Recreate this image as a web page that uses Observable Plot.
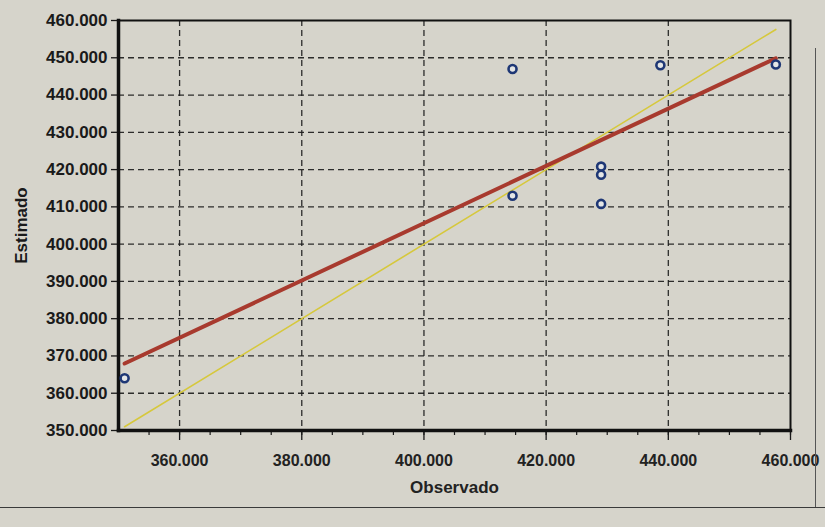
<!DOCTYPE html>
<html>
<head>
<meta charset="utf-8">
<script src="https://cdn.jsdelivr.net/npm/d3@7"></script>
<script src="https://cdn.jsdelivr.net/npm/@observablehq/plot@0.6"></script>
<style>
  html, body { margin: 0; padding: 0; background: #d6d4cb; }
  #wrap { position: relative; width: 825px; height: 527px; overflow: hidden; }
  #chart svg { display: block; background: transparent; }
  #bottomline { position: absolute; left: 0; top: 507px; width: 825px; height: 0; border-top: 1.5px solid #3a3a3a; }
  #rightline { position: absolute; left: 815px; top: 48px; width: 0; height: 460px; border-left: 1.5px solid #555; }
</style>
</head>
<body>
<div id="wrap">
  <div id="chart"></div>
  <div id="rightline"></div>
  <div id="bottomline"></div>
</div>
<script>
// Observed vs estimated values
const observed  = [351, 414.5, 414.5, 429, 429, 429, 438.7, 457.6];
const estimated = [364, 447, 413, 420.8, 418.6, 410.8, 448, 448.2];

// Axis ticks
const xTicks = [360, 380, 400, 420, 440, 460];
const xMinorTicks = [355, 360, 365, 370, 375, 380, 385, 390, 395, 400, 405, 410, 415, 420, 425, 430, 435, 440, 445, 450, 455, 460];
const yTicks = [350, 360, 370, 380, 390, 400, 410, 420, 430, 440, 450, 460];
const xGrid = [360, 380, 400, 420, 440];
const yGrid = [360, 370, 380, 390, 400, 410, 420, 430, 440, 450];

const points = observed.map((o, i) => ({observed: o, estimated: estimated[i]}));
const ext = d3.extent(observed);
const identity = ext.map(v => ({observed: v, estimated: v}));

const fmt = d => d.toFixed(3);

const chart = Plot.plot({
  width: 825,
  height: 505,
  marginLeft: 118,
  marginRight: 35,
  marginTop: 20,
  marginBottom: 75,
  style: {fontFamily: "'Liberation Sans', Arial, sans-serif", color: "#1a1a1a", background: "transparent"},
  x: {domain: [350, 460]},
  y: {domain: [350, 460]},
  marks: [
    Plot.gridX(xGrid, {stroke: "#1a1a1a", strokeOpacity: 0.9, strokeWidth: 1.3, strokeDasharray: "6,4"}),
    Plot.gridY(yGrid, {stroke: "#1a1a1a", strokeOpacity: 0.9, strokeWidth: 1.3, strokeDasharray: "6,4"}),
    Plot.axisX(xMinorTicks, {tickSize: 5, strokeWidth: 1.2, text: null, label: null}),
    Plot.axisX(xTicks, {
      tickSize: 10, tickPadding: 14, strokeWidth: 1.3, tickFormat: fmt,
      fontSize: 16, fontWeight: "bold", fill: "#222",
      label: "Observado", labelAnchor: "center", labelArrow: "none", labelOffset: 62
    }),
    Plot.axisY(yTicks, {
      tickSize: 7, tickPadding: 4, strokeWidth: 1.3, tickFormat: fmt,
      fontSize: 17, fontWeight: "bold", fill: "#1a1a1a",
      label: "Estimado", labelAnchor: "center", labelArrow: "none", labelOffset: 104
    }),
    Plot.frame({stroke: "#111", strokeWidth: 2}),
    Plot.frame({anchor: "left", stroke: "#111", strokeWidth: 3.5}),
    Plot.frame({anchor: "bottom", stroke: "#111", strokeWidth: 3.5}),
    Plot.line(identity, {x: "observed", y: "estimated", stroke: "#d6c83c", strokeWidth: 1.6}),
    Plot.linearRegressionY(points, {x: "observed", y: "estimated", stroke: "#a83a2e", strokeWidth: 4, ci: 0}),
    Plot.dot(points, {x: "observed", y: "estimated", r: 4, stroke: "#1e3775", strokeWidth: 2.6, fill: "#e4e6e6"})
  ]
});

// Style axis labels
d3.select(chart).selectAll("g[aria-label='x-axis label'] text, g[aria-label='y-axis label'] text")
  .attr("font-weight", "bold").attr("font-size", 17);

document.getElementById("chart").appendChild(chart);
</script>
</body>
</html>
